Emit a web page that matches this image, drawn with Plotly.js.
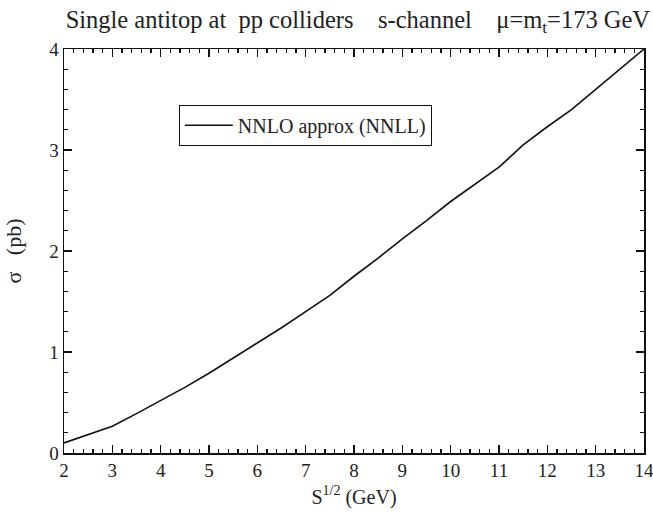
<!DOCTYPE html>
<html>
<head>
<meta charset="utf-8">
<script src="https://cdn.plot.ly/plotly-3.0.1.min.js"></script>
<style>html,body{margin:0;padding:0;background:#fff;}#chart{width:653px;height:516px;}</style>
</head>
<body>
<div id="chart"></div>
<script>
const sqrtS = [2, 2.5, 3, 3.5, 4, 4.5, 5, 5.5, 6, 6.5, 7, 7.5, 8, 8.5, 9, 9.5, 10, 10.5, 11, 11.5, 12, 12.5, 13, 13.5, 14];
const sigmaNNLO = [0.10, 0.18, 0.265, 0.39, 0.52, 0.65, 0.79, 0.94, 1.09, 1.24, 1.40, 1.56, 1.75, 1.93, 2.12, 2.30, 2.49, 2.66, 2.83, 3.05, 3.23, 3.40, 3.60, 3.80, 4.00];
const seriesName = "NNLO approx (NNLL)";
const chartTitle = "Single antitop at\u00A0 pp colliders\u00A0\u00A0\u00A0 s-channel\u00A0\u00A0\u00A0 \u03bc=m<sub>t</sub>=173 GeV";
const xTitle = "S<sup>1/2</sup> (GeV)";
const yTitle = "\u03c3\u00A0\u00A0 (pb)";

const font = "Liberation Serif, Times New Roman, serif";
const axisCommon = {
  showgrid: false, zeroline: false, showline: true, linecolor: '#111', linewidth: 1.5,
  mirror: 'ticks', ticks: 'inside', ticklen: 8, tickwidth: 1.5, tickcolor: '#111',
  tickfont: {family: font, size: 19, color: '#222'}, ticklabeloverflow: 'allow',
  minor: {ticks: 'inside', ticklen: 4, tickwidth: 1.2, tickcolor: '#111', dtick: 0.2}
};
const data = [{
  x: sqrtS, y: sigmaNNLO, type: 'scatter', mode: 'lines', name: seriesName,
  line: {color: '#111', width: 1.6}
}];
const layout = {
  width: 653, height: 516,
  margin: {l: 64, r: 9, t: 49, b: 63},
  paper_bgcolor: '#fff', plot_bgcolor: '#fff',
  font: {family: font, color: '#222'},
  title: {text: chartTitle, font: {family: font, size: 24.5, color: '#222'}, x: 0.548, xanchor: 'center', y: 0.963, yanchor: 'middle'},
  showlegend: true,
  legend: {x: 0.198, y: 0.862, xanchor: 'left', yanchor: 'top', bordercolor: '#111', borderwidth: 1,
    itemwidth: 48, font: {family: font, size: 20, color: '#222'}, bgcolor: '#fff'},
  xaxis: Object.assign({}, axisCommon, {range: [2, 14], dtick: 1, tick0: 2,
    title: {text: xTitle, font: {family: font, size: 20, color: '#222'}, standoff: 9}}),
  yaxis: Object.assign({}, axisCommon, {range: [0, 4], dtick: 1, tick0: 0,
    title: {text: yTitle, font: {family: font, size: 22, color: '#222'}, standoff: 21}})
};
Plotly.newPlot('chart', data, layout, {displayModeBar: false, staticPlot: true});
</script>
</body>
</html>
